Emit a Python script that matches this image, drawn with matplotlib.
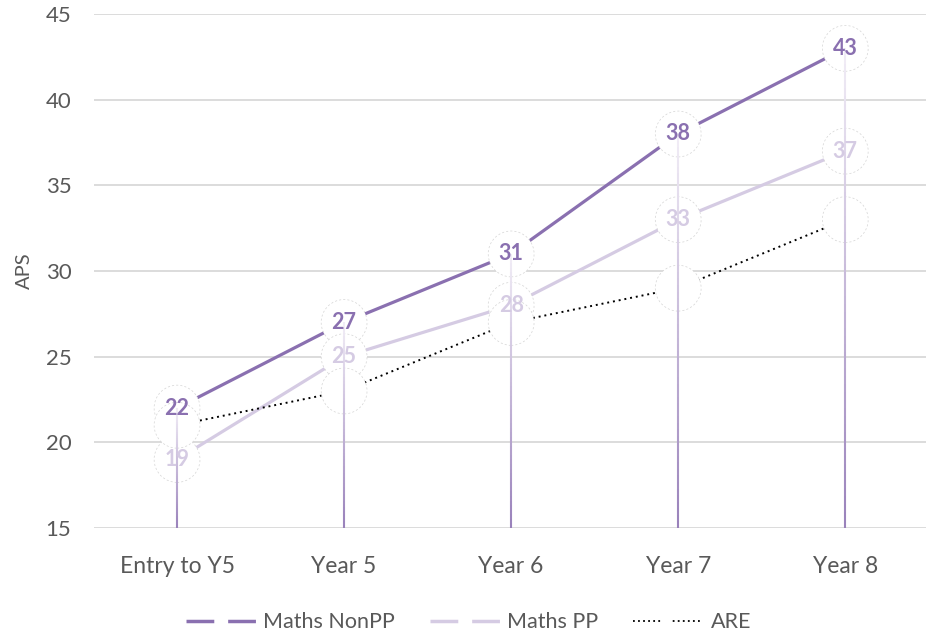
import numpy as np
import matplotlib
matplotlib.use("Agg")
import matplotlib.pyplot as plt
from matplotlib.collections import LineCollection
from matplotlib.lines import Line2D
from matplotlib.colors import to_rgb

plt.rcParams['font.family'] = ['Lato', 'DejaVu Sans']

## data
categories = ["Entry to Y5", "Year 5", "Year 6", "Year 7", "Year 8"]
maths_nonpp = [22, 27, 31, 38, 43]
maths_pp = [19, 25, 28, 33, 37]
are = [21, 23, 27, 29, 33]

c_nonpp = "#8a70b0"
c_pp = "#d5cbe3"
c_are = "#000000"
c_text = "#595959"

fig = plt.figure(figsize=(9.26, 6.4), dpi=100)
ax = fig.add_axes([0.101, 0.175, 0.902, 0.803])
x = np.arange(len(categories))

## series lines
ax.plot(x, maths_nonpp, color=c_nonpp, lw=2.3, zorder=2, solid_capstyle='butt')
ax.plot(x, maths_pp, color=c_pp, lw=2.3, zorder=2, solid_capstyle='butt')
ax.plot(x, are, color=c_are, lw=1.4, ls=(0, (1, 2)), zorder=2)

## white circle markers
for s in (maths_nonpp, maths_pp, are):
  ax.scatter(x, s, s=33 ** 2, facecolor='white', edgecolor='#d4d4d4',
             linewidth=0.5, linestyle=(0, (3, 3)), zorder=3)

## gradient drop lines
top_c = np.array(to_rgb("#f1edf6"))
bot_c = np.array(to_rgb("#9a82bb"))
n = 60
for xi, s1, s2, s3 in zip(x, maths_nonpp, maths_pp, are):
  ytop = max(s1, s2, s3)
  ys = np.linspace(ytop, 15, n + 1)
  segs = [[(xi, ys[i]), (xi, ys[i + 1])] for i in range(n)]
  t = np.linspace(0, 1, n)[:, None]
  cols = top_c * (1 - t) + bot_c * t
  ax.add_collection(LineCollection(segs, colors=cols, linewidths=1.5, zorder=4))

## labels
for xi, v in zip(x, maths_nonpp):
  ax.text(xi, v, str(v), color=c_nonpp, fontsize=15.5, fontweight='bold',
          ha='center', va='center', zorder=5)
for xi, v in zip(x, maths_pp):
  ax.text(xi, v, str(v), color=c_pp, fontsize=15.5, fontweight='bold',
          ha='center', va='center', zorder=5)

## axes styling
ax.set_xlim(-0.5, len(categories) - 0.5)
ax.set_ylim(15, 45)
ax.set_yticks(np.arange(15, 46, 5))
ax.set_xticks(x)
ax.set_xticklabels(categories)
ax.yaxis.grid(True, color='#d9d9d9', lw=1.3, zorder=0)
ax.set_axisbelow(True)
for sp in ax.spines.values():
  sp.set_visible(False)
ax.tick_params(axis='both', length=0, labelsize=16.5, colors=c_text)
ax.tick_params(axis='x', pad=20)
ax.tick_params(axis='y', pad=16, labelsize=16)
ax.set_ylabel("APS", fontsize=14.5, color=c_text, labelpad=9)

## legend
are_dash = [1, 1.8] * 5 + [1, 7] + [1, 1.8] * 5
handles = [Line2D([], [], color=c_nonpp, lw=2.5, ls=(0, (8, 4))),
           Line2D([], [], color=c_pp, lw=2.5, ls=(0, (8, 4))),
           Line2D([], [], color=c_are, lw=1.3, ls=(0, are_dash))]
fig.legend(handles, ["Maths NonPP", "Maths PP", "ARE"], loc='center',
           bbox_to_anchor=(0.506, 0.028), ncol=3, frameon=False, fontsize=15.5,
           handlelength=3.25, handletextpad=0.33, columnspacing=1.63,
           labelcolor=c_text)

plt.savefig("out.png", dpi=100)
